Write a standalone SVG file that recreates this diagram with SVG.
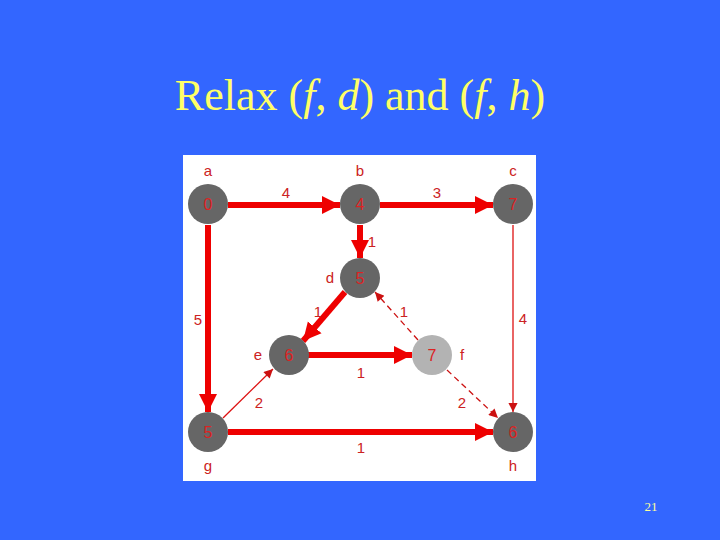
<svg xmlns="http://www.w3.org/2000/svg" width="720" height="540" viewBox="0 0 720 540">
<style>
.t{font-family:"Liberation Sans",Arial,sans-serif;font-size:15px;fill:#cc2222;text-anchor:middle}
.n{font-family:"Liberation Sans",Arial,sans-serif;font-size:16px;fill:#dd2222;text-anchor:middle}
.thick{stroke:#ee0000;stroke-width:6;fill:none}
.thin{stroke:#dd1111;stroke-width:1.3;fill:none}
.dash{stroke:#cc1111;stroke-width:1.3;fill:none;stroke-dasharray:6 4}
.node{fill:#666666}
</style>
<defs>
<marker id="big" viewBox="0 0 10 10" refX="10" refY="5" markerWidth="3" markerHeight="3.3" orient="auto" markerUnits="strokeWidth"><path d="M0,0 L10,5 L0,10 z" fill="#ee0000"/></marker>
<marker id="small" viewBox="0 0 10 10" refX="10" refY="5" markerWidth="8" markerHeight="7" orient="auto" markerUnits="strokeWidth"><path d="M0,0 L10,5 L0,10 z" fill="#cc1111"/></marker>
</defs>
<rect width="720" height="540" fill="#3366ff"/>
<text x="360" y="110" font-family="'Liberation Serif','Times New Roman',serif" font-size="44" fill="#ffff66" text-anchor="middle">Relax (<tspan font-style="italic">f</tspan>, <tspan font-style="italic">d</tspan>) and (<tspan font-style="italic">f</tspan>, <tspan font-style="italic">h</tspan>)</text>
<text x="651" y="511" font-family="'Liberation Serif','Times New Roman',serif" font-size="13" fill="#ffff99" text-anchor="middle">21</text>
<rect x="183" y="155" width="353" height="326" fill="#ffffff"/>
<g id="connectors">
<line class="thick" x1="228" y1="205" x2="340" y2="205" marker-end="url(#big)"/>
<line class="thick" x1="380" y1="205" x2="493" y2="205" marker-end="url(#big)"/>
<line class="thick" x1="360" y1="225" x2="360" y2="258" marker-end="url(#big)"/>
<line class="thick" x1="208" y1="225" x2="208" y2="412" marker-end="url(#big)"/>
<line class="thick" x1="345" y1="292" x2="303" y2="341" marker-end="url(#big)"/>
<line class="thick" x1="308" y1="355" x2="412" y2="355" marker-end="url(#big)"/>
<line class="thick" x1="228" y1="432" x2="493" y2="432" marker-end="url(#big)"/>
<line class="thin" x1="513" y1="225" x2="513" y2="412" marker-end="url(#small)"/>
<line class="thin" x1="223" y1="418" x2="273" y2="369" marker-end="url(#small)"/>
<line class="dash" x1="418" y1="340" x2="375" y2="292" marker-end="url(#small)"/>
<line class="dash" x1="447" y1="370" x2="498" y2="418" marker-end="url(#small)"/>
</g>
<g id="edge-labels">
<text class="t" x="286" y="198">4</text>
<text class="t" x="437" y="198">3</text>
<text class="t" x="372" y="247">1</text>
<text class="t" x="198" y="325">5</text>
<text class="t" x="318" y="317">1</text>
<text class="t" x="404" y="317">1</text>
<text class="t" x="523" y="324">4</text>
<text class="t" x="361" y="378">1</text>
<text class="t" x="259" y="408">2</text>
<text class="t" x="462" y="408">2</text>
<text class="t" x="361" y="453">1</text>
</g>
<g id="a"><circle class="node" cx="208" cy="204" r="20"/><text class="n" x="208" y="210">0</text><text class="t" x="208" y="176">a</text></g>
<g id="b"><circle class="node" cx="360" cy="204" r="20"/><text class="n" x="360" y="210">4</text><text class="t" x="360" y="176">b</text></g>
<g id="c"><circle class="node" cx="513" cy="204" r="20"/><text class="n" x="513" y="210">7</text><text class="t" x="513" y="176">c</text></g>
<g id="d"><circle class="node" cx="360" cy="278" r="20"/><text class="n" x="360" y="284">5</text><text class="t" x="330" y="283">d</text></g>
<g id="e"><circle class="node" cx="289" cy="355" r="20"/><text class="n" x="289" y="361">6</text><text class="t" x="258" y="360">e</text></g>
<g id="f"><circle cx="432" cy="355" r="20" fill="#b3b3b3"/><text class="n" x="432" y="361">7</text><text class="t" x="462" y="360">f</text></g>
<g id="g"><circle class="node" cx="208" cy="432" r="20"/><text class="n" x="208" y="438">5</text><text class="t" x="208" y="471">g</text></g>
<g id="h"><circle class="node" cx="513" cy="432" r="20"/><text class="n" x="513" y="438">6</text><text class="t" x="513" y="471">h</text></g>
</svg>
